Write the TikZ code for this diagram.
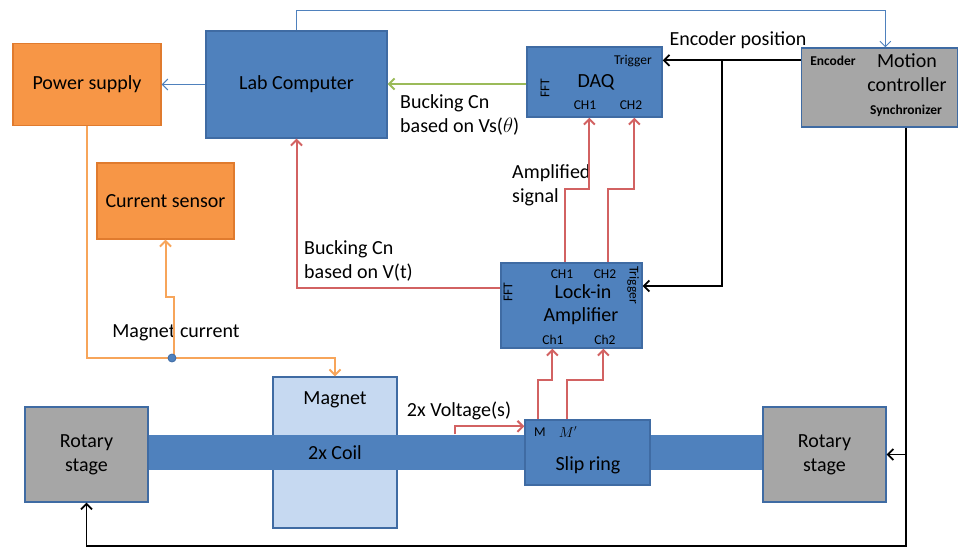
\documentclass[tikz,border=0pt]{standalone}
\usepackage{fontspec}
\setmainfont{Carlito}
\usetikzlibrary{arrows.meta}
\definecolor{bfill}{HTML}{4F81BD}
\definecolor{bline}{HTML}{3F6BA3}
\definecolor{ofill}{HTML}{F79646}
\definecolor{oline}{HTML}{E07B2E}
\definecolor{owire}{HTML}{F7A55A}
\definecolor{gfill}{HTML}{A6A6A6}
\definecolor{mfill}{HTML}{C6D9F1}
\definecolor{rwire}{HTML}{D26262}
\definecolor{gwire}{HTML}{9BBB59}
\begin{document}
\begin{tikzpicture}[x=1pt,y=-1pt,
  every node/.style={font=\fontsize{20}{24}\selectfont, inner sep=0pt},
  bluebox/.style={draw=bline, fill=bfill, line width=1.3pt},
  orangebox/.style={draw=oline, fill=ofill, line width=1.3pt},
  graybox/.style={draw=bline, fill=gfill, line width=1.3pt},
  magbox/.style={draw=bline, fill=mfill, line width=1.3pt},
  small/.style={font=\fontsize{13.5}{15}\selectfont},
  smallb/.style={font=\fontsize{13.5}{15}\selectfont\bfseries},
  tip/.style={-{Straight Barb[length=5.5pt,width=11pt]}},
  bwire/.style={draw=bfill, line width=1pt, tip},
  redw/.style={draw=rwire, line width=2pt, tip},
  orw/.style={draw=owire, line width=2pt, tip},
  blkw/.style={draw=black, line width=1.8pt, tip},
  grw/.style={draw=gwire, line width=2pt, tip}
]
\useasboundingbox (0,0) rectangle (958,548);

% boxes
\node[orangebox, minimum width=148pt, minimum height=82pt] (ps) at (87,84.5) {Power supply};
\node[bluebox, minimum width=181pt, minimum height=107pt] (lab) at (296.5,84.5) {Lab Computer};
\node[bluebox, minimum width=135pt, minimum height=70pt] (daq) at (594.5,82) {};
\node[graybox, minimum width=156pt, minimum height=79pt] (mc) at (879.5,87.5) {};
\node[orangebox, minimum width=137pt, minimum height=76pt] (cs) at (165.5,201) {Current sensor};
\node[bluebox, minimum width=141pt, minimum height=85pt] (lock) at (571.5,305.5) {};
\node[magbox, minimum width=124pt, minimum height=151pt] (magnet) at (335,452.5) {};
\node[bluebox, draw=none, minimum width=615pt, minimum height=35pt] (shaft) at (455.5,452.5) {};
\node[graybox, minimum width=123pt, minimum height=95pt, align=center] (rs1) at (86.5,454.5) {Rotary\\stage};
\node[graybox, minimum width=123pt, minimum height=95pt, align=center] (rs2) at (824.5,454.5) {Rotary\\stage};
\node[bluebox, minimum width=125pt, minimum height=65pt] (slip) at (587.5,452.5) {};

% texts inside boxes
\node (tmag) at (335,400) {Magnet};
\node (tcoil) at (335,453) {2x Coil};
\node (tslip) at (588,465) {Slip ring};
\node[small] (tm) at (540,432) {M};
\node[small] (tmp) at (568,432) {$M'$};

\node[small] (dtrig) at (633,61) {Trigger};
\node (tdaq) at (596,82) {DAQ};
\node[small] (dch1) at (585,105) {CH1};
\node[small] (dch2) at (631,105) {CH2};
\node[small, rotate=90] (dfft) at (545,88) {FFT};

\node[small] (lch1) at (562,274) {CH1};
\node[small] (lch2) at (605,274) {CH2};
\node[small, rotate=-90] (ltrig) at (633,285) {Trigger};
\node (tlock) at (583,292) {Lock-in};
\node (tamp) at (581,316) {Amplifier};
\node[small] (lc1) at (553,340) {Ch1};
\node[small] (lc2) at (605,340) {Ch2};
\node[small, rotate=90] (lfft) at (508,292) {FFT};

\node[smallb] (menc) at (833,61) {Encoder};
\node (mmot) at (907,61) {Motion};
\node (mcon) at (907,85) {controller};
\node[smallb] (msyn) at (906,111) {Synchronizer};

% free labels
\node (lencpos) at (738,40) {Encoder position};
\node[align=left, anchor=west] (lvs) at (400,115) {Bucking Cn\\based on Vs($\theta$)};
\node[align=left, anchor=west] (lampsig) at (512,185.5) {Amplified\\signal};
\node[align=left, anchor=west] (lvt) at (304,261) {Bucking Cn\\based on V(t)};
\node (lmagc) at (176,333) {Magnet current};
\node (lvolt) at (459,411) {2x Voltage(s)};

% coordinates
\coordinate (enc) at ([yshift=-13pt]mc.north west);
\coordinate (br) at (722,61);
\coordinate (mcs) at ([xshift=26.5pt]mc.south);
\coordinate (bot) at (906,546);
\coordinate (dot) at (172,358);

% connectors
\draw[bwire] (lab.north) -- ++(0,-20) -| ([xshift=84.5pt]mc.north west);
\draw[bwire] (lab.west) -- (ps.east);
\draw[grw] ([yshift=-2pt]daq.west) -- ([yshift=-2pt]daq.west -| lab.east);
\draw[blkw] (enc) -- (enc -| daq.east);
\draw[blkw] (br) |- ([yshift=19.5pt]lock.east);
\draw[blkw] (mcs) |- (rs2.east);
\draw[blkw] (mcs) -- (bot) -| (rs1.south);
\draw[redw] ([yshift=17.5pt]lock.west) -| (lab.south);
\draw[redw] ([xshift=-6.5pt]lock.north) -- ++(0,-73) -| ([xshift=63pt]daq.south west);
\draw[redw] ([xshift=36.5pt]lock.north) -- ++(0,-73) -| ([xshift=108pt]daq.south west);
\draw[redw] ([xshift=14pt]slip.north west) -- ++(0,-39) -| ([xshift=52pt]lock.south west);
\draw[redw] ([xshift=43pt]slip.north west) -- ++(0,-39) -| ([xshift=103pt]lock.south west);
\draw[redw] ([xshift=308pt]shaft.north west) |- ([yshift=-7pt]slip.north west);
\draw[orw] (ps.south) |- (magnet.north |- dot) -- (magnet.north);
\draw[orw] ([xshift=2pt]dot) -- ++(0,-61) -| (cs.south);
\fill[bfill, draw=bline, line width=0.8pt] (dot) circle (4pt);
\end{tikzpicture}
\end{document}
